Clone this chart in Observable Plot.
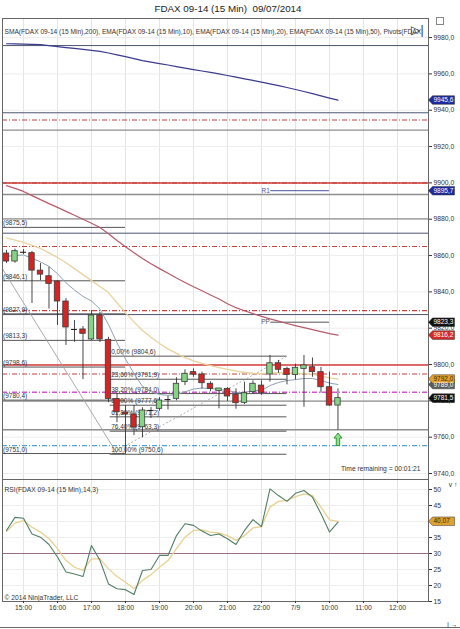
<!DOCTYPE html>
<html><head><meta charset="utf-8">
<script src="https://cdn.jsdelivr.net/npm/d3@7"></script>
<script src="https://cdn.jsdelivr.net/npm/@observablehq/plot@0.6"></script>
<style>
html,body{margin:0;padding:0;background:#fff}
#wrap{position:relative;width:460px;height:629px;overflow:hidden;background:#fff;font-family:"Liberation Sans",Arial,sans-serif}
#title{position:absolute;left:0;top:3px;width:456px;text-align:center;font-size:9.8px;color:#222;white-space:pre}
#price{position:absolute;left:0;top:18px}
#rsi{position:absolute;left:0;top:479px}
#bottomline{position:absolute;left:0;top:627px;width:460px;height:0;border-top:1px solid #666}
#ficon{position:absolute;left:436px;top:17px;width:6px;height:6px;border:1px solid #888}
</style></head><body>
<div id="wrap">
<div id="title">FDAX 09-14 (15 Min)  09/07/2014</div>
<div id="price"></div>
<div id="rsi"></div>
<div id="ficon"></div>
<div id="bottomline"></div>
</div>
<script>
// ---------- data ----------
const opens  = [9861.1,9856.7,9861.8,9861.3,9851.7,9848.6,9845.7,9834.7,9819.3,9819.3,9813.8,9827.0,9813.6,9781.0,9773.5,9772.5,9765.5,9774.7,9775.6,9780.7,9781.1,9790.3,9795.8,9794.5,9789.4,9785.4,9786.6,9783.3,9778.9,9784.8,9788.4,9794.5,9800.7,9797.6,9794.3,9797.6,9798.5,9795.8,9787.5,9777.4];
const highs  = [9862.8,9863.5,9863.3,9862.2,9855.6,9853.6,9846.2,9836.3,9824.2,9820.9,9829.7,9828.6,9815.0,9784.0,9777.4,9777.4,9776.2,9776.3,9781.8,9782.4,9792.7,9797.1,9797.6,9795.8,9790.5,9786.5,9787.3,9786.6,9790.3,9791.0,9791.0,9805.0,9802.2,9798.5,9800.2,9805.0,9803.6,9798.4,9795.8,9786.6];
const lows   = [9855.6,9855.8,9860.5,9833.6,9846.2,9830.5,9821.5,9810.5,9812.3,9791.7,9813.2,9812.1,9779.0,9768.0,9750.6,9760.9,9759.6,9770.3,9774.3,9775.0,9780.0,9788.4,9793.0,9786.6,9785.0,9775.6,9779.7,9775.4,9778.0,9783.5,9783.0,9790.3,9795.2,9788.8,9791.5,9776.5,9793.0,9784.2,9777.0,9764.0];
const closes = [9856.7,9862.4,9861.8,9851.7,9849.5,9844.4,9834.7,9820.4,9819.3,9816.9,9827.0,9813.8,9781.0,9773.7,9772.5,9765.3,9774.7,9774.7,9780.2,9780.7,9789.4,9794.9,9794.4,9789.7,9786.6,9786.8,9782.4,9778.7,9784.2,9789.4,9784.4,9800.7,9797.1,9794.3,9798.2,9799.5,9795.8,9787.5,9777.4,9781.5];

const sma200 = [9976.6,9976.5,9976.4,9976.3,9976.1,9975.6,9975.0,9974.5,9974.0,9973.5,9973.0,9972.4,9971.5,9970.5,9969.5,9968.4,9967.3,9966.5,9965.7,9964.9,9964.0,9963.2,9962.4,9961.6,9960.8,9960.0,9959.1,9958.2,9957.3,9956.4,9955.5,9954.5,9953.5,9952.5,9951.4,9950.3,9949.1,9947.9,9946.7,9945.6];
const ema50  = [9898.5,9897.0,9895.3,9893.0,9890.8,9888.6,9886.5,9884.3,9882.2,9880.0,9877.8,9875.4,9872.0,9868.3,9864.8,9861.5,9858.4,9855.5,9852.8,9850.2,9847.6,9845.2,9842.8,9840.6,9838.3,9836.1,9833.5,9831.3,9829.6,9828.0,9826.5,9825.1,9823.9,9822.6,9821.4,9820.3,9819.2,9818.1,9817.0,9816.2];
const ema20  = [9869.7,9868.5,9867.2,9865.6,9863.9,9861.5,9858.9,9856.0,9852.8,9849.5,9846.2,9843.0,9839.6,9834.0,9828.6,9823.5,9818.7,9815.0,9811.6,9808.6,9806.1,9803.8,9802.0,9800.6,9799.4,9798.3,9797.3,9796.4,9795.6,9795.2,9795.0,9795.3,9795.5,9795.3,9795.2,9795.0,9794.6,9793.8,9792.6,9792.0];
const ema10  = [9859.5,9860.0,9860.3,9858.5,9856.5,9854.0,9850.0,9845.0,9841.0,9837.5,9835.0,9830.5,9822.0,9812.0,9803.0,9795.0,9788.0,9785.0,9783.5,9783.0,9783.5,9785.0,9786.5,9787.0,9786.8,9786.2,9785.7,9784.6,9784.6,9785.7,9785.7,9788.4,9790.1,9791.2,9791.7,9792.3,9792.3,9791.2,9789.8,9789.0];

const rsi    = [37.2,41.3,41.0,36.1,35.1,32.8,28.9,24.2,23.6,22.8,32.5,27.8,20.5,19.0,18.7,17.2,24.7,25.0,29.4,29.4,35.6,39.3,38.8,37.0,35.6,36.1,34.6,32.8,37.2,40.6,38.4,50.2,48.1,46.3,48.8,49.7,47.6,42.4,36.7,39.8];
const rsiAvg = [36.9,39.5,40.3,38.2,36.7,34.6,31.5,27.8,25.7,24.7,28.3,28.3,25.2,22.8,21.0,19.0,21.6,23.4,25.7,27.8,31.5,35.1,37.2,37.4,36.7,36.4,35.6,34.1,35.6,38.0,38.4,44.5,46.3,46.6,47.8,48.6,48.1,44.5,40.5,40.07];

const hourIdx    = [2,6,10,14,18,22,26,30,34,38,42,46];
const hourLabels = ["15:00","16:00","17:00","18:00","19:00","20:00","21:00","22:00","7/9","10:00","11:00","12:00"];
const priceTicks = [9740,9760,9780,9800,9820,9840,9860,9880,9900,9920,9940,9960,9980];
const rsiTicks   = [15,20,25,30,35,40,45,50];

const slateLevels   = [9975.6,9938.6,9872.3,9827.5];
const grayLevels    = [9929.0,9893.6,9880.2,9779.8,9764.1];
const redSolidLevels= [9900.0,9799.7];
const redDashLevels = [9934.6,9900.0,9865.0,9829.7,9794.8];
const magentaLevels = [9784.8];
const blueDashLevels= [9755.4];

const fibPct   = ["0,00%","23,60%","38,20%","50,00%","61,80%","76,40%","100,00%"];
const fib1     = [9875.5,9846.1,9827.9,9813.3,9798.6,9780.4,9751.0];
const fib2     = [9804.6,9791.9,9784.0,9777.6,9771.2,9763.3,9750.6];
const fib1Span = {from:-0.47, to:14};
const fib2Span = {from:12.2, to:33};
const fib1Diag = [{x1:-3.5,y1:9875.5,x2:13,y2:9751.0}];
const fib2Diag = [{x1:12.2,y1:9750.6,x2:33,y2:9804.6}];

const pivots = [{name:"R1", v:9895.7, col:"#4a52a0"},{name:"PP", v:9823.3, col:"#555"}];
const pivotSpan = {from:31.1, to:38};

const legendText = "SMA(FDAX 09-14 (15 Min),200), EMA(FDAX 09-14 (15 Min),10), EMA(FDAX 09-14 (15 Min),20), EMA(FDAX 09-14 (15 Min),50), Pivots(FDAX";
const rsiLegend  = "RSI(FDAX 09-14 (15 Min),14,3)";
const copyright  = "© 2014 NinjaTrader, LLC";
const timeText   = "Time remaining = 00:01:21";

// ---------- helpers ----------
const fmt1 = v => v.toFixed(1).replace(".", ",");
const fmt2 = v => v.toFixed(2).replace(".", ",");
const bars = opens.map((o,i)=>({i,o,h:highs[i],l:lows[i],c:closes[i]}));
const upBars = bars.filter(d=>d.c>d.o), dnBars = bars.filter(d=>d.c<d.o), dojiBars = bars.filter(d=>d.c===d.o);
const series = arr => arr.map((v,i)=>({i,v}));
const last = arr => arr[arr.length-1];

const tagShape = {draw(ctx){ctx.moveTo(0,0);ctx.lineTo(4,-4.3);ctx.lineTo(26,-4.3);ctx.lineTo(26,4.3);ctx.lineTo(4,4.3);ctx.closePath();}};
const upArrow  = {draw(ctx){ctx.moveTo(0,-6.5);ctx.lineTo(4,-1.5);ctx.lineTo(1.7,-1.5);ctx.lineTo(1.7,6);ctx.lineTo(-1.7,6);ctx.lineTo(-1.7,-1.5);ctx.lineTo(-4,-1.5);ctx.closePath();}};

const priceTags = [
  {v:last(sma200), bg:"#1f2a9c", fg:"#fff"},
  {v:pivots[0].v, bg:"#1f2a9c", fg:"#fff"},
  {v:last(ema10), bg:"#5d5d5d", fg:"#fff"},
  {v:pivots[1].v, bg:"#111", fg:"#fff"},
  {v:last(ema50), bg:"#d42a2a", fg:"#fff"},
  {v:last(ema20), bg:"#e0a032", fg:"#3a2a00"},
  {v:last(closes), bg:"#111", fg:"#fff"}
];
const rsiTags = [{v:last(rsiAvg), bg:"#e0a032", fg:"#3a2a00"}];

const FONT = '"Liberation Sans", Arial, sans-serif';
const dash = "5,2,1,2";
const xScale = {domain:[-0.47,49.65], axis:null};

const price = Plot.plot({
  width:460, height:461, marginLeft:2, marginRight:32, marginTop:0, marginBottom:0,
  x:xScale, y:{domain:[9736.7,9990.5], axis:null}, color:{type:"identity"},
  style:{fontFamily:FONT, fontSize:"6.7px", color:"#333", background:"transparent"},
  marks:[
    Plot.ruleX(hourIdx,{stroke:"#e4e4e4"}),
    Plot.ruleY(priceTicks,{stroke:"#ededed"}),
    Plot.ruleY(grayLevels,{stroke:"#8e8e8e", strokeWidth:1.3}),
    Plot.ruleY(slateLevels,{stroke:"#4d5670", strokeWidth:1}),
    Plot.ruleY(redSolidLevels,{stroke:"#d43a3a", strokeWidth:1.5}),
    Plot.ruleY(redDashLevels,{stroke:"#c2453f", strokeWidth:1.1, strokeDasharray:dash}),
    Plot.ruleY(magentaLevels,{stroke:"#d455d4", strokeWidth:1.5, strokeDasharray:dash}),
    Plot.ruleY(blueDashLevels,{stroke:"#4fa3d6", strokeWidth:1.2, strokeDasharray:dash}),
    // Fibonacci 1
    Plot.ruleY(fib1,{x1:fib1Span.from, x2:fib1Span.to, stroke:"#555"}),
    Plot.link(fib1Diag,{x1:"x1",y1:"y1",x2:"x2",y2:"y2", stroke:"#a0a0a0", strokeWidth:0.9, clip:true}),
    Plot.text(fib1,{x:fib1Span.from, y:d=>d, text:d=>"("+fmt1(d)+")", textAnchor:"start", dx:0.5, dy:-4, fontSize:6.5, fill:"#333"}),
    // Fibonacci 2
    Plot.ruleY(fib2,{x1:fib2Span.from, x2:fib2Span.to, stroke:"#555"}),
    Plot.link(fib2Diag,{x1:"x1",y1:"y1",x2:"x2",y2:"y2", stroke:"#9a9a9a", strokeWidth:0.8, strokeDasharray:"2,2"}),
    Plot.text(fib2,{x:fib2Span.from, y:d=>d, text:(d,i)=>fibPct[i]+" ("+fmt1(d)+")", textAnchor:"start", dx:1, dy:-4, fontSize:6.5, fill:"#333"}),
    // Pivots
    Plot.ruleY(pivots,{y:"v", x1:pivotSpan.from, x2:pivotSpan.to, stroke:"col"}),
    Plot.text(pivots,{y:"v", x:pivotSpan.from, text:"name", textAnchor:"end", dx:-1, fill:"col", fontSize:6.5}),
    // moving averages
    Plot.line(series(sma200),{x:"i",y:"v",stroke:"#3a3a8e",strokeWidth:1.2}),
    Plot.line(series(ema50),{x:"i",y:"v",stroke:"#b65a6c",strokeWidth:1.2}),
    Plot.line(series(ema20),{x:"i",y:"v",stroke:"#ead29c",strokeWidth:1.3}),
    Plot.line(series(ema10),{x:"i",y:"v",stroke:"#8fa0b4",strokeWidth:1}),
    // candles
    Plot.ruleX(bars,{x:"i", y1:"l", y2:"h", stroke:"#333", strokeWidth:0.9}),
    Plot.rect(upBars,{x1:d=>d.i-0.32, x2:d=>d.i+0.32, y1:"o", y2:"c", fill:"#84d484", stroke:"#3c3c3c", strokeWidth:0.8}),
    Plot.rect(dnBars,{x1:d=>d.i-0.32, x2:d=>d.i+0.32, y1:"o", y2:"c", fill:"#d42424", stroke:"#3c3c3c", strokeWidth:0.8}),
    Plot.ruleY(dojiBars,{y:"o", x1:d=>d.i-0.35, x2:d=>d.i+0.35, stroke:"#222", strokeWidth:1.1}),
    Plot.dot([last(bars)],{x:"i", y:9758.7, symbol:upArrow, fill:"#8ee08e", stroke:"#2d9a2d", strokeWidth:1}),
    Plot.frame({stroke:"#666"}),
    Plot.axisY(priceTicks,{anchor:"right", tickSize:3, tickPadding:2, tickFormat:fmt1, fontSize:6.8}),
    // price tags
    Plot.dot(priceTags,{y:"v", frameAnchor:"right", symbol:tagShape, fill:"bg", stroke:"#333", strokeWidth:0.5}),
    Plot.text(priceTags,{y:"v", frameAnchor:"right", text:d=>fmt1(d.v), textAnchor:"start", dx:5, fill:"fg", fontSize:6.5}),
    // texts
    Plot.text([legendText],{frameAnchor:"top-left", text:d=>d, textAnchor:"start", lineAnchor:"middle", dx:2, dy:13, fontSize:6.6, fill:"#333"}),
    Plot.text(["▷|"],{frameAnchor:"top-right", text:d=>d, textAnchor:"end", lineAnchor:"middle", dx:-5, dy:12, fontSize:12, fill:"#333"}),
    Plot.text([timeText],{frameAnchor:"bottom-right", text:d=>d, textAnchor:"end", lineAnchor:"middle", dx:-8, dy:-11, fontSize:6.7, fill:"#333"})
  ]
});
document.getElementById("price").appendChild(price);

const rsiPlot = Plot.plot({
  width:460, height:150, marginLeft:2, marginRight:32, marginTop:0, marginBottom:28,
  x:xScale, y:{domain:[15,53.125], axis:null}, color:{type:"identity"},
  style:{fontFamily:FONT, fontSize:"6.7px", color:"#333", background:"transparent"},
  marks:[
    Plot.ruleX(hourIdx,{stroke:"#e4e4e4"}),
    Plot.ruleY(rsiTicks,{stroke:"#ededed"}),
    Plot.ruleY([30],{stroke:"#9a6a8c", strokeWidth:1.2}),
    Plot.line(series(rsiAvg),{x:"i",y:"v",stroke:"#e8d08e",strokeWidth:1.3}),
    Plot.line(series(rsi),{x:"i",y:"v",stroke:"#4f7f66",strokeWidth:1.1}),
    Plot.text([rsiLegend],{frameAnchor:"top-left", text:d=>d, textAnchor:"start", lineAnchor:"middle", dx:2, dy:10, fontSize:6.7, fill:"#333"}),
    Plot.text([copyright],{frameAnchor:"bottom-left", text:d=>d, textAnchor:"start", lineAnchor:"middle", dx:2, dy:-4, fontSize:6.7, fill:"#333"}),
    Plot.frame({stroke:"#666"}),
    Plot.axisY(rsiTicks,{anchor:"right", tickSize:3, tickPadding:2, fontSize:6.8}),
    Plot.axisX(hourIdx,{anchor:"bottom", tickSize:2, tickPadding:2, fontSize:6.8, tickFormat:d=>hourLabels[hourIdx.indexOf(d)]}),
    Plot.dot(rsiTags,{y:"v", frameAnchor:"right", symbol:tagShape, fill:"bg", stroke:"#333", strokeWidth:0.5}),
    Plot.text(rsiTags,{y:"v", frameAnchor:"right", text:d=>fmt2(d.v), textAnchor:"start", dx:5, fill:"fg", fontSize:6.5})
  ]
});
document.getElementById("rsi").appendChild(rsiPlot);
</script>
</body></html>
